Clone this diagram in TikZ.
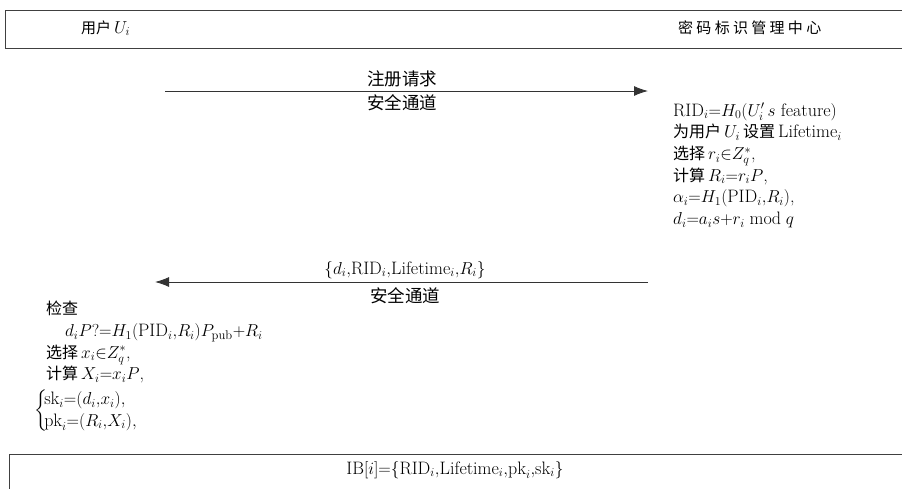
\documentclass[tikz,border=0pt]{standalone}
\usepackage{fontspec}
\usepackage{amsmath}
\newfontfamily\cjk{Noto Sans CJK SC}
\newfontfamily\cjkwide[LetterSpace=22]{Noto Sans CJK SC}
\newcommand\zh[1]{{\fontsize{16}{21.7}\selectfont\cjk #1}}
\newcommand\zhl[1]{{\fontsize{17.5}{21.7}\selectfont\cjk #1}}
\usetikzlibrary{arrows.meta}
\begin{document}
\begin{tikzpicture}[x=1pt,y=-1pt,
  frame/.style={draw=black!75,line width=0.9pt},
  msg/.style={draw=black!80,line width=0.9pt,-{Latex[length=14pt,width=10pt]}},
  txt/.style={inner sep=0pt,font=\fontsize{18}{21.7}\selectfont},
  block/.style={txt,align=left,anchor=north west}]
\useasboundingbox (0,0) rectangle (902,488);
% boxes
\draw[frame] (912,10) -- (5,10) -- (5,48) -- (912,48);
\draw[frame] (912,454) -- (9,454) -- (9,500);
% header
\node[txt,anchor=west] (user) at (81,28) {{\fontsize{15}{18}\selectfont\cjk 用户}\,$U_i$};
\node[txt,anchor=west,font=\fontsize{15}{18}\selectfont] (center) at (678,28) {\cjkwide 密码标识管理中心};
% first message
\coordinate (m1s) at (165,91);
\coordinate (m1e) at (648,91);
\draw[msg] (m1s) -- (m1e);
\node[txt] (m1a) at (402,79) {\zhl{注册请求}};
\node[txt] (m1b) at (402,103) {\zhl{安全通道}};
% center computations
\node[block] (cc) at (673,103) {%
$\mathrm{RID}_i{=}H_0(U_i'\,s\ \mathrm{feature})$\\
\zh{为用户}\,$U_i$\,\zh{设置}\,Lifetime$_i$\\
\zh{选择}\,$r_i{\in}Z_q^*$,\\
\zh{计算}\,$R_i{=}r_iP$,\\
$\alpha_i{=}H_1(\mathrm{PID}_i{,}R_i)$,\\
$d_i{=}a_is{+}r_i\bmod q$};
% second message
\coordinate (m2s) at (648,282);
\coordinate (m2e) at (155,282);
\draw[msg] (m2s) -- (m2e);
\node[txt] (m2a) at (405,270) {$\{d_i{,}\mathrm{RID}_i{,}\mathrm{Lifetime}_i{,}R_i\}$};
\node[txt] (m2b) at (405,296) {\zhl{安全通道}};
% user computations
\node[block] (uc) at (46,301) {%
\zh{检查}\\
\hspace{19pt}$d_iP?{=}H_1(\mathrm{PID}_i{,}R_i)P_{\mathrm{pub}}{+}R_i$\\
\zh{选择}\,$x_i{\in}Z_q^*$,\\
\zh{计算}\,$X_i{=}x_iP$,};
\node[txt,anchor=west] (keys) at (34,411) {$\left\{\!\begin{array}{@{}l@{}}\mathrm{sk}_i{=}(d_i{,}x_i),\\ \mathrm{pk}_i{=}(R_i{,}X_i),\end{array}\right.$};
% bottom
\node[txt] (ib) at (455,470) {$\mathrm{IB}[i]{=}\{\mathrm{RID}_i{,}\mathrm{Lifetime}_i{,}\mathrm{pk}_i{,}\mathrm{sk}_i\}$};
\end{tikzpicture}
\end{document}
